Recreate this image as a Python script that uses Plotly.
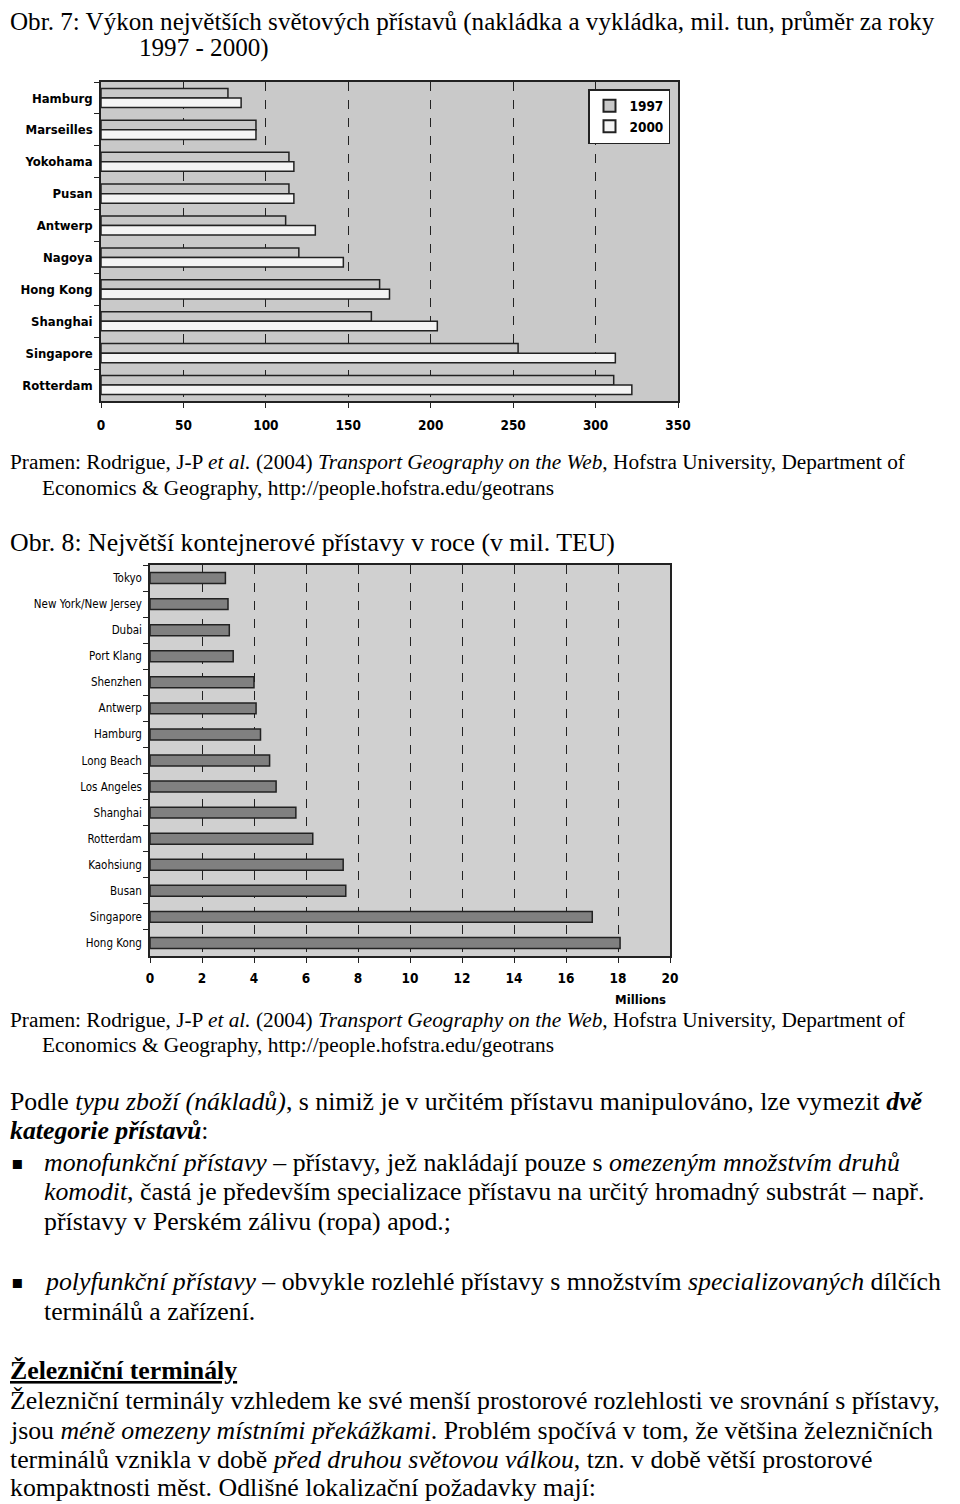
import plotly.graph_objects as go

# Obr. 7 - mil. tun
ports7 = ["Hamburg", "Marseilles", "Yokohama", "Pusan", "Antwerp", "Nagoya",
          "Hong Kong", "Shanghai", "Singapore", "Rotterdam"]
val_1997 = [77, 94, 114, 114, 112, 120, 169, 164, 253, 311]
val_2000 = [85, 94, 117, 117, 130, 147, 175, 204, 312, 322]

# Obr. 8 - mil. TEU
ports8 = ["Tokyo", "New York/New Jersey", "Dubai", "Port Klang", "Shenzhen", "Antwerp",
          "Hamburg", "Long Beach", "Los Angeles", "Shanghai", "Rotterdam", "Kaohsiung",
          "Busan", "Singapore", "Hong Kong"]
teu = [2.9, 3.0, 3.05, 3.2, 4.0, 4.08, 4.25, 4.6, 4.85, 5.61, 6.26, 7.43, 7.53, 17.01, 18.08]

# page has an 8px body margin, so the figure starts at (8, 8)
OFF = 8
W, H = 944, 1496
NARROW = "Liberation Sans Narrow, DejaVu Sans Condensed, Arial Narrow, sans-serif"
SERIF = "Liberation Serif, Times New Roman, serif"


def px_x(x):
    return (x - OFF) / W


def px_y(y):
    return 1 - (y - OFF) / H


fig = go.Figure()

fig.add_trace(go.Bar(y=ports7, x=val_1997, orientation="h", name="<b>1997</b>",
                     width=0.3, offset=-0.3,
                     marker=dict(color="#c8c8c8", line=dict(color="#222", width=1.5)),
                     xaxis="x", yaxis="y"))
fig.add_trace(go.Bar(y=ports7, x=val_2000, orientation="h", name="<b>2000</b>",
                     width=0.3, offset=0,
                     marker=dict(color="#f4f4f4", line=dict(color="#222", width=1.5)),
                     xaxis="x", yaxis="y"))
fig.add_trace(go.Bar(y=ports8, x=teu, orientation="h", showlegend=False,
                     width=0.42, offset=-0.21,
                     marker=dict(color="#808080", line=dict(color="#222", width=1.5)),
                     xaxis="x2", yaxis="y2"))

axis_common = dict(showline=True, linecolor="#222", linewidth=1.5, mirror=True,
                   ticks="outside", tickcolor="#222", ticklen=5, zeroline=False,
                   automargin=False)

fig.update_layout(
    width=W, height=H, autosize=False,
    margin=dict(l=0, r=0, t=0, b=0),
    paper_bgcolor="white",
    barmode="overlay",
    font=dict(family=NARROW, color="black"),
    xaxis=dict(domain=[px_x(101), px_x(678)], range=[0, 350], dtick=50,
               anchor="y", showgrid=True, gridcolor="#222", griddash="dash", gridwidth=1,
               ticklabelstandoff=6,
               tickfont=dict(size=13.5, family=NARROW), **axis_common),
    yaxis=dict(domain=[px_y(401), px_y(82)], autorange="reversed", anchor="x",
               tickson="boundaries", showgrid=False, ticklabelstandoff=4,
               tickfont=dict(size=13, family=NARROW), **axis_common),
    xaxis2=dict(domain=[px_x(150), px_x(670)], range=[0, 20], dtick=2,
                anchor="y2", showgrid=True, gridcolor="#222", griddash="dash", gridwidth=1,
                ticklabelstandoff=4,
                tickfont=dict(size=13.5, family=NARROW), **axis_common),
    yaxis2=dict(domain=[px_y(956), px_y(565)], autorange="reversed", anchor="x2",
                tickson="boundaries", showgrid=False, ticklabelstandoff=4,
                tickfont=dict(size=11.5, family=NARROW), **axis_common),
    plot_bgcolor="#c9c9c9",
    legend=dict(x=px_x(670), y=px_y(89), xanchor="right", yanchor="top",
                bgcolor="white", bordercolor="#222", borderwidth=1.5,
                font=dict(size=13.5, family=NARROW), tracegroupgap=0,
                itemwidth=30, itemsizing="constant"),
)

# lighter background for the second chart
fig.add_shape(type="rect", xref="x2 domain", yref="y2 domain", x0=0, x1=1, y0=0, y1=1,
              fillcolor="#d0d0d0", line=dict(width=0), layer="below")

fig.update_xaxes(tickprefix="<b>", ticksuffix="</b>")
fig.update_yaxes(selector=dict(anchor="x"), tickprefix="<b>", ticksuffix="</b>")

fig.add_annotation(x=px_x(668), y=px_y(999), xref="paper", yref="paper",
                   text="<b>Millions</b>", showarrow=False, xanchor="right",
                   font=dict(size=13, family=NARROW))

pramen1 = ("Pramen: Rodrigue, J-P <i>et al.</i> (2004) <i>Transport Geography on the Web</i>, "
           "Hofstra University, Department of")
pramen2 = "Economics &amp; Geography, http://people.hofstra.edu/geotrans"

BIG, SMALL, TITLE = 25.8, 21.3, 25.1
lines = [
    (8, 22, TITLE, "Obr. 7: Výkon největších světových přístavů (nakládka a vykládka, mil. tun, průměr za roky"),
    (137, 48, TITLE, "1997 - 2000)"),
    (8, 462, SMALL, pramen1),
    (40, 488, SMALL, pramen2),
    (8, 542, BIG, "Obr. 8: Největší kontejnerové přístavy v roce (v mil. TEU)"),
    (8, 1020, SMALL, pramen1),
    (40, 1045, SMALL, pramen2),
    (8, 1101, BIG, "Podle <i>typu zboží (nákladů)</i>, s nimiž je v určitém přístavu manipulováno, "
                   "lze vymezit <b><i>dvě</i></b>"),
    (8, 1130, BIG, "<b><i>kategorie přístavů</i></b>:"),
    (42, 1162, BIG, "<i>monofunkční přístavy</i> – přístavy, jež nakládají pouze s "
                    "<i>omezeným množstvím druhů</i>"),
    (42, 1191, BIG, "<i>komodit</i>, častá je především specializace přístavu na určitý "
                    "hromadný substrát – např."),
    (42, 1221, BIG, "přístavy v Perském zálivu (ropa) apod.;"),
    (42, 1281, BIG, "<i>polyfunkční přístavy</i> – obvykle rozlehlé přístavy s množstvím "
                    "<i>specializovaných</i> dílčích"),
    (42, 1311, BIG, "terminálů a zařízení."),
    (8, 1370, BIG, "<b><u>Železniční terminály</u></b>"),
    (8, 1400, BIG, "Železniční terminály vzhledem ke své menší prostorové rozlehlosti ve srovnání s přístavy,"),
    (8, 1430, BIG, "jsou <i>méně omezeny místními překážkami</i>. Problém spočívá v tom, že většina "
                   "železničních"),
    (8, 1459, BIG, "terminálů vznikla v době <i>před druhou světovou válkou</i>, tzn. v době větší prostorové"),
    (8, 1487, BIG, "kompaktnosti měst. Odlišné lokalizační požadavky mají:"),
]

for x, y, s, t in lines:
    fig.add_annotation(x=px_x(x), y=px_y(y), xref="paper", yref="paper", text=t,
                       showarrow=False, xanchor="left", yanchor="middle",
                       font=dict(size=s, family=SERIF, color="black"))

for y in [1162, 1281]:
    fig.add_annotation(x=px_x(9), y=px_y(y), xref="paper", yref="paper", text="▪",
                       showarrow=False, xanchor="left", yanchor="middle",
                       font=dict(size=18, family="DejaVu Sans", color="black"))

fig.write_html("out.html")
